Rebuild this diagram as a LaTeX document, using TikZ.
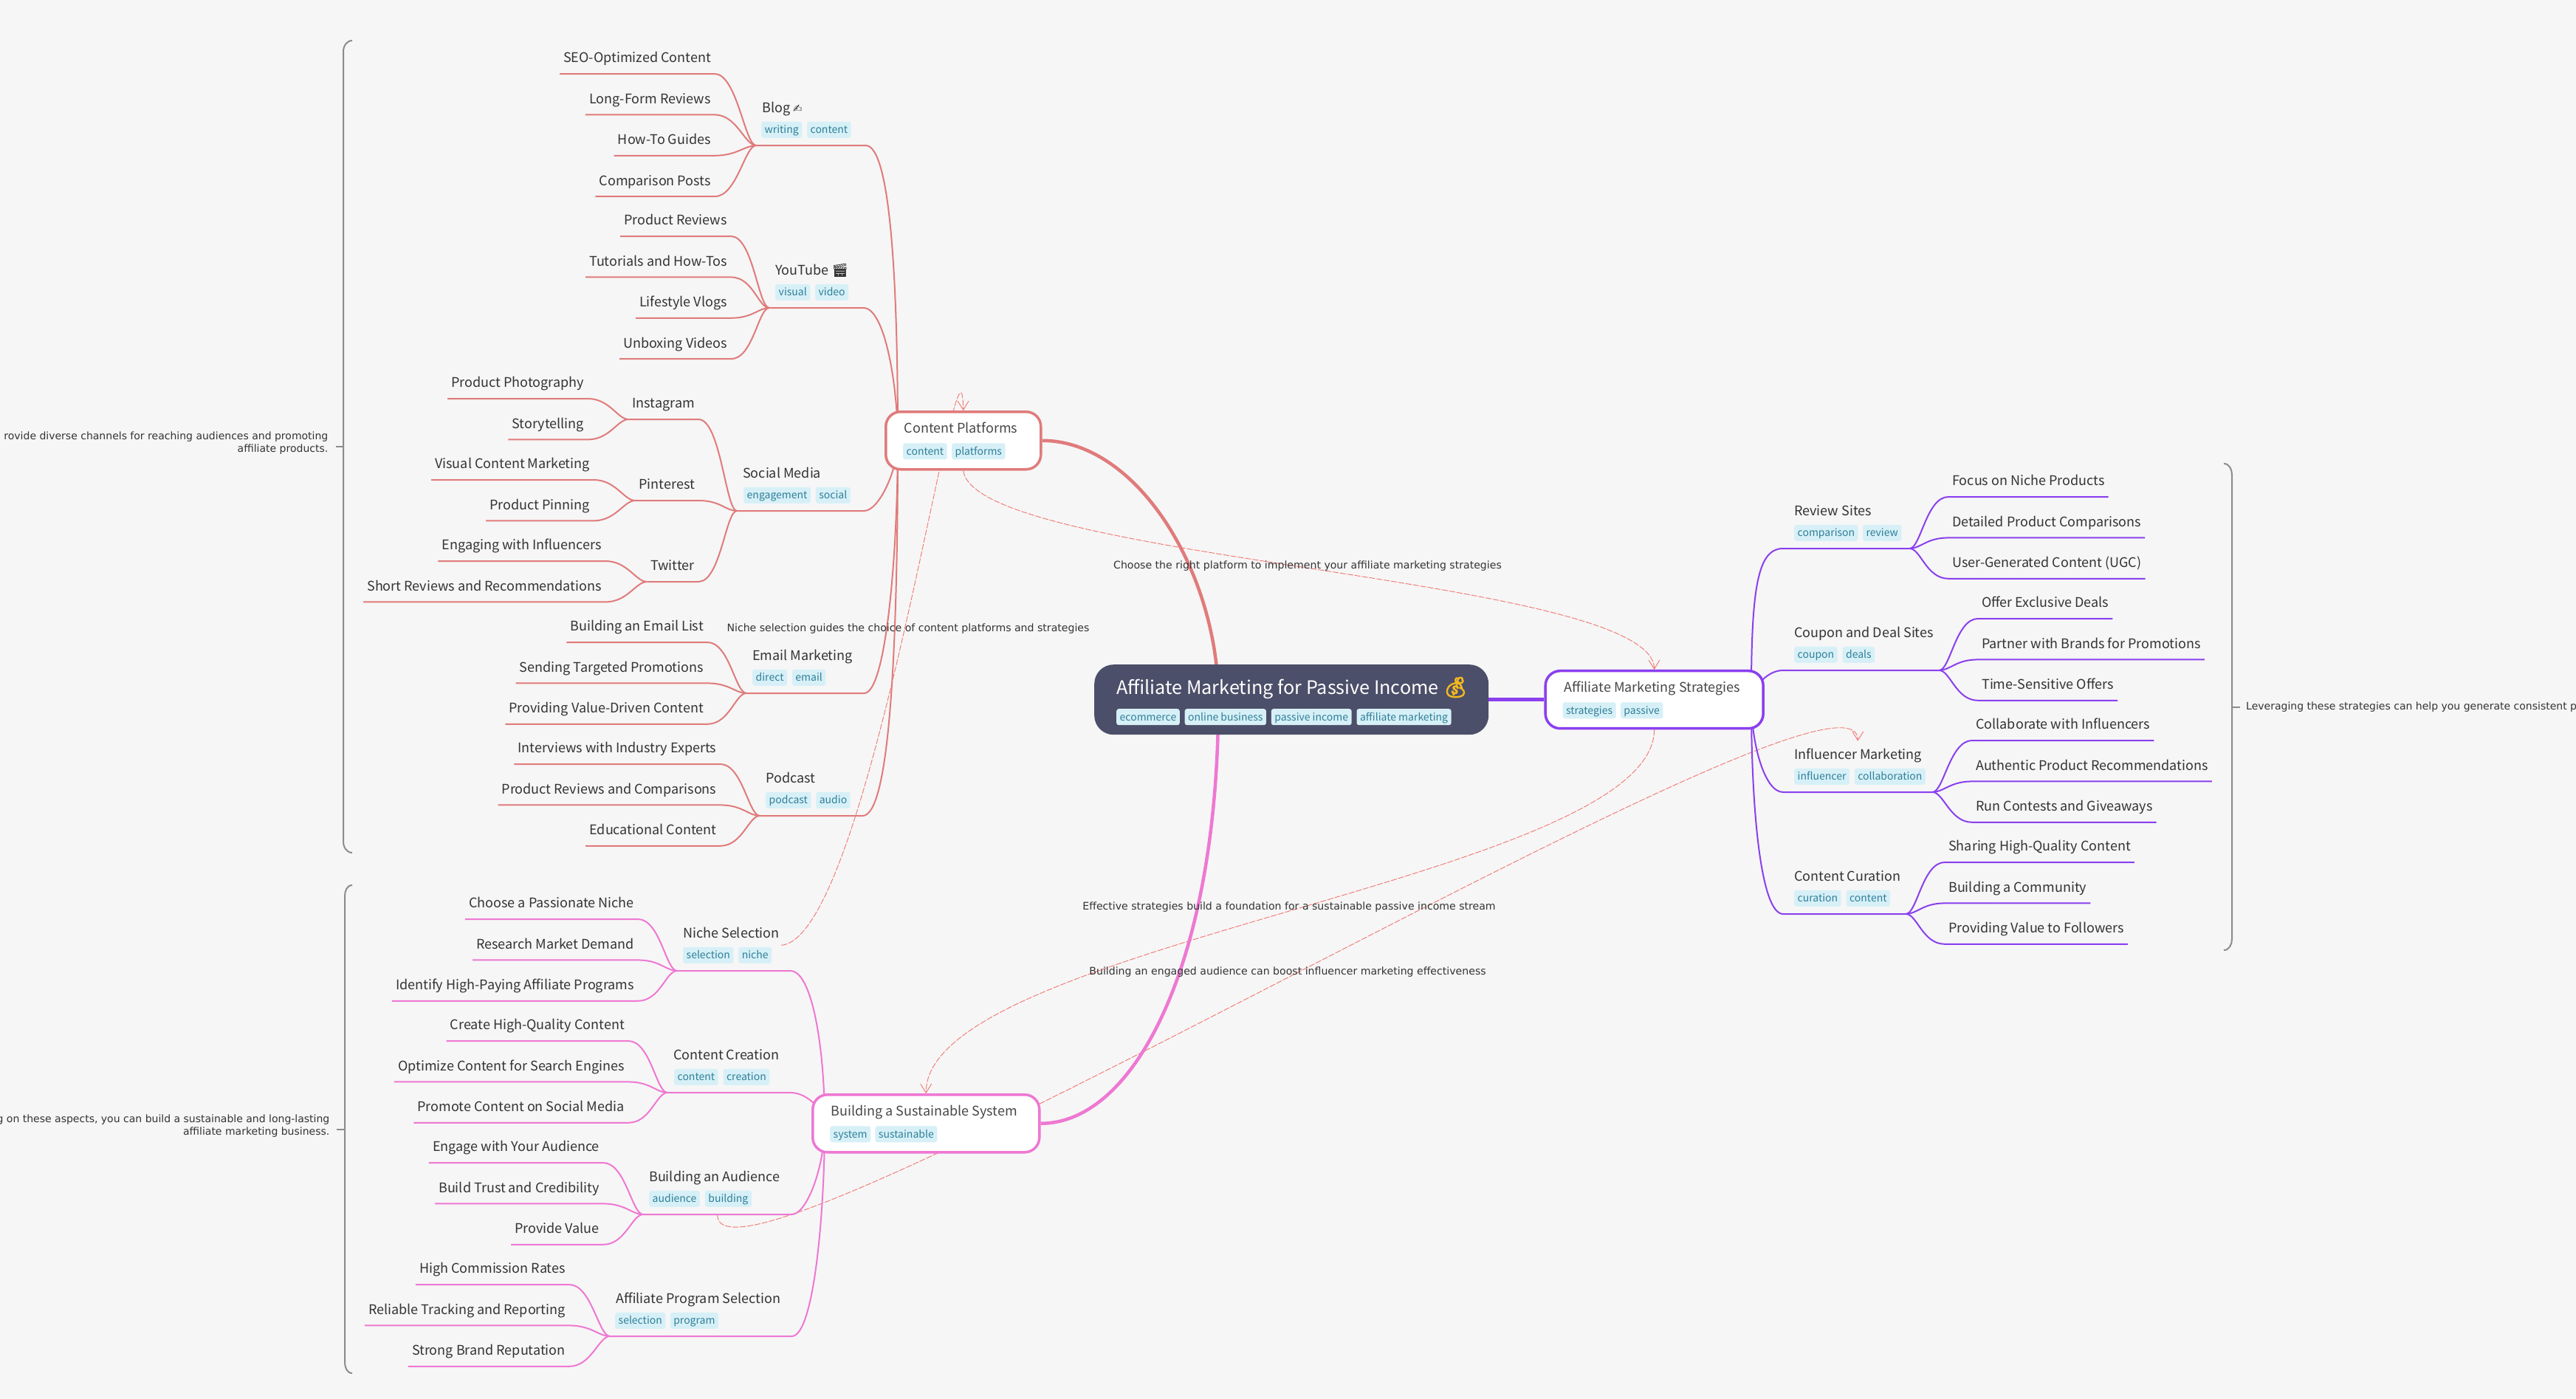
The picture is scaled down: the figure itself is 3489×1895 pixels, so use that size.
\documentclass[tikz,border=0pt]{standalone}
\usepackage{fontspec}
\setmainfont{Noto Sans CJK SC}
\newfontfamily\dejavu{DejaVu Sans}
\newfontfamily\emoji{Noto Emoji}
\newfontfamily\fatemoji[FakeBold=5]{Noto Emoji}
\usetikzlibrary{arrows.meta, positioning, calc}
\pgfdeclarelayer{background}
\pgfsetlayers{background,main}

\definecolor{pagebg}{HTML}{F6F6F6}
\definecolor{rootbg}{HTML}{4C4F69}
\definecolor{redline}{HTML}{E07B7B}
\definecolor{violet}{HTML}{8A3FEE}
\definecolor{pinkline}{HTML}{EE78D2}
\definecolor{relink}{HTML}{F0756F}
\definecolor{tagbg}{HTML}{D7F0F7}
\definecolor{tagink}{HTML}{2F7F98}
\definecolor{ink}{HTML}{333333}
\definecolor{moneybag}{HTML}{F5B91E}
\definecolor{bracketgray}{HTML}{8C8C8C}

\tikzstyle{leaf} = [inner xsep=5pt, inner ysep=0pt, text height=16pt, text depth=15pt, text=ink, font=\fontsize{18}{22}\selectfont]
\tikzstyle{leftleaf} = [leaf, anchor=south east]
\tikzstyle{rightleaf} = [leaf, anchor=south west]
\tikzstyle{branch} = [anchor=south west, inner sep=0pt, text height=25pt, text depth=44pt, align=flush left, text=ink, font=\fontsize{18}{22}\selectfont, execute at begin node={\hskip 8pt}]
\tikzstyle{rightbranch} = [anchor=south west, inner sep=0pt, text height=25pt, text depth=44pt, align=flush left, text=ink, font=\fontsize{18}{22}\selectfont, execute at begin node={\hskip 15pt}]
\tikzstyle{tagbox} = [fill=tagbg, text=tagink, rounded corners=3pt, inner xsep=4.5pt, inner ysep=0pt, minimum height=22pt, text height=13pt, text depth=3pt, font=\fontsize{14}{16}\selectfont]
\tikzstyle{mainbox} = [draw, fill=white, line width=3.5pt, rounded corners=20pt, inner sep=0pt, text height=29pt, text depth=49pt, align=flush left, text=ink!90, font=\fontsize{18}{22}\selectfont, execute at begin node={\hskip 25pt}]
\tikzstyle{rootbox} = [fill=rootbg, rounded corners=26pt, inner sep=0pt, text height=40pt, text depth=55pt, align=flush left, text=white, font=\fontsize{25.2}{30}\selectfont, execute at begin node={\hskip 30pt}]
\tikzstyle{linklabel} = [inner sep=0pt, text=ink, font=\dejavu\fontsize{14.1}{16}\selectfont]
\tikzstyle{note} = [inner ysep=0pt, text=ink, font=\dejavu\fontsize{14}{17}\selectfont]
\tikzstyle{wire} = [line width=2pt]
\tikzstyle{intoleft} = [out=0, in=180, out distance=30pt, in distance=15pt]
\tikzstyle{fromright} = [out=0, in=180, out distance=15pt, in distance=30pt]
\tikzstyle{relation} = [draw=relink, line width=.9pt, dash pattern=on 8pt off 2pt, -{Straight Barb[length=12pt,width=15pt]}]
\tikzstyle{bracket} = [draw=bracketgray, line width=2pt]
\tikzset{
    stackleft/.style={below=24pt of #1.south east, anchor=north east},
    stackright/.style={below=24pt of #1.south west, anchor=north west},
}

\begin{document}
\begin{tikzpicture}[x=1pt, y=-1pt]
    \useasboundingbox (0,0) rectangle (3489,1895);

    % Root and main boxes
    \node[rootbox, anchor=north west, text width=534pt] (root) at (1482,900) {Affiliate Marketing for Passive Income {\fatemoji\fontsize{27}{30}\selectfont\textcolor{moneybag}{💰}}};
    \node[tagbox, above right=13pt and 30pt of root.south west] (rootecommerce) {ecommerce};
    \node[tagbox, right=6.5pt of rootecommerce] (rootonline) {online business};
    \node[tagbox, right=6.5pt of rootonline] (rootpassive) {passive income};
    \node[tagbox, right=6.5pt of rootpassive] (rootaffiliate) {affiliate marketing};

    \node[mainbox, draw=redline, anchor=north west, text width=210pt] (platforms) at (1198,556) {Content Platforms};
    \node[tagbox, above right=15pt and 25pt of platforms.south west] (platformscontent) {content};
    \node[tagbox, right=6pt of platformscontent] (platformsplatforms) {platforms};

    \node[mainbox, draw=violet, right=75pt of root, text width=295pt] (strategies) {Affiliate Marketing Strategies};
    \node[tagbox, above right=15pt and 25pt of strategies.south west] (strategiesstrategies) {strategies};
    \node[tagbox, right=6pt of strategiesstrategies] (strategiespassive) {passive};

    \node[mainbox, draw=pinkline, anchor=north west, text width=307pt] (sustainable) at (1099,1481) {Building a Sustainable System};
    \node[tagbox, above right=15pt and 25pt of sustainable.south west] (sustainablesystem) {system};
    \node[tagbox, right=6pt of sustainablesystem] (sustainablesustainable) {sustainable};

    \coordinate (roothub) at ($(root.center)+(-99,0)$);
    \coordinate (platformhub) at ($(platforms.west)+(18,0)$);
    \coordinate (stratehub) at ($(strategies.east)+(-18,0)$);
    \coordinate (sustainhub) at ($(sustainable.west)+(18,0)$);

    % Blog
    \node[branch, text width=148pt] (blog) at (1024,197) {Blog {\dejavu\fontsize{15}{16}\selectfont ✍}};
    \node[tagbox, above right=10pt and 7pt of blog.south west] (blogwriting) {writing};
    \node[tagbox, right=6.5pt of blogwriting] (blogcontent) {content};
    \node[leftleaf] (seo) at (968,100) {SEO-Optimized Content};
    \node[leftleaf, stackleft=seo] (longform) {Long-Form Reviews};
    \node[leftleaf, stackleft=longform] (howto) {How-To Guides};
    \node[leftleaf, stackleft=howto] (comparisonposts) {Comparison Posts};

    % YouTube
    \node[branch, text width=127pt] (youtube) at (1042,417) {YouTube {\emoji 🎬}};
    \node[tagbox, above right=10pt and 8pt of youtube.south west] (youtubevisual) {visual};
    \node[tagbox, right=6.5pt of youtubevisual] (youtubevideo) {video};
    \node[leftleaf] (productreviews) at (990,320) {Product Reviews};
    \node[leftleaf, stackleft=productreviews] (tutorials) {Tutorials and How-Tos};
    \node[leftleaf, stackleft=tutorials] (vlogs) {Lifestyle Vlogs};
    \node[leftleaf, stackleft=vlogs] (unboxing) {Unboxing Videos};

    % Social Media
    \node[branch, text width=172pt] (social) at (998,692) {Social Media};
    \node[tagbox, above right=10pt and 9pt of social.south west] (socialengagement) {engagement};
    \node[tagbox, right=6.5pt of socialengagement] (socialsocial) {social};
    \node[leftleaf] (instagram) at (946,568) {Instagram};
    \node[leftleaf] (photography) at (796,540) {Product Photography};
    \node[leftleaf, stackleft=photography] (storytelling) {Storytelling};
    \node[leftleaf] (pinterest) at (946,678) {Pinterest};
    \node[leftleaf] (visualcontent) at (804,650) {Visual Content Marketing};
    \node[leftleaf, stackleft=visualcontent] (pinning) {Product Pinning};
    \node[leftleaf] (twitter) at (946,788) {Twitter};
    \node[leftleaf] (influencers) at (820,760) {Engaging with Influencers};
    \node[leftleaf, stackleft=influencers] (shortreviews) {Short Reviews and Recommendations};

    % Email Marketing
    \node[branch, text width=159pt] (email) at (1011,939) {Email Marketing};
    \node[tagbox, above right=10pt and 8pt of email.south west] (emaildirect) {direct};
    \node[tagbox, right=6.5pt of emaildirect] (emailemail) {email};
    \node[leftleaf] (emaillist) at (958,870) {Building an Email List};
    \node[leftleaf, stackleft=emaillist] (targeted) {Sending Targeted Promotions};
    \node[leftleaf, stackleft=targeted] (valuedriven) {Providing Value-Driven Content};

    % Podcast
    \node[branch, text width=139pt] (podcast) at (1029,1105) {Podcast};
    \node[tagbox, above right=10pt and 8pt of podcast.south west] (podcastpodcast) {podcast};
    \node[tagbox, right=6.5pt of podcastpodcast] (podcastaudio) {audio};
    \node[leftleaf] (interviews) at (975.5,1035) {Interviews with Industry Experts};
    \node[leftleaf, stackleft=interviews] (reviewscomparisons) {Product Reviews and Comparisons};
    \node[leftleaf, stackleft=reviewscomparisons] (educational) {Educational Content};

    % Review Sites
    \node[rightbranch, text width=171pt] (review) at (2415,743) {Review Sites};
    \node[tagbox, above right=10pt and 15pt of review.south west] (reviewcomparison) {comparison};
    \node[tagbox, right=6pt of reviewcomparison] (reviewreview) {review};
    \node[rightleaf] (nicheproducts) at (2639,673) {Focus on Niche Products};
    \node[rightleaf, stackright=nicheproducts] (detailed) {Detailed Product Comparisons};
    \node[rightleaf, stackright=detailed] (ugc) {User-Generated Content (UGC)};

    % Coupon and Deal Sites
    \node[rightbranch, text width=211pt] (coupon) at (2415,908) {Coupon and Deal Sites};
    \node[tagbox, above right=10pt and 15pt of coupon.south west] (couponcoupon) {coupon};
    \node[tagbox, right=6.5pt of couponcoupon] (coupondeals) {deals};
    \node[rightleaf] (exclusive) at (2679,838) {Offer Exclusive Deals};
    \node[rightleaf, stackright=exclusive] (brands) {Partner with Brands for Promotions};
    \node[rightleaf, stackright=brands] (timesensitive) {Time-Sensitive Offers};

    % Influencer Marketing
    \node[rightbranch, text width=202pt] (influencer) at (2415,1073) {Influencer Marketing};
    \node[tagbox, above right=10pt and 15pt of influencer.south west] (influencerinfluencer) {influencer};
    \node[tagbox, right=6.5pt of influencerinfluencer] (influencercollaboration) {collaboration};
    \node[rightleaf] (collaborate) at (2671,1003) {Collaborate with Influencers};
    \node[rightleaf, stackright=collaborate] (authentic) {Authentic Product Recommendations};
    \node[rightleaf, stackright=authentic] (contests) {Run Contests and Giveaways};

    % Content Curation
    \node[rightbranch, text width=166pt] (curation) at (2415,1238) {Content Curation};
    \node[tagbox, above right=10pt and 15pt of curation.south west] (curationcuration) {curation};
    \node[tagbox, right=6.5pt of curationcuration] (curationcontent) {content};
    \node[rightleaf] (sharing) at (2634,1168) {Sharing High-Quality Content};
    \node[rightleaf, stackright=sharing] (community) {Building a Community};
    \node[rightleaf, stackright=community] (followers) {Providing Value to Followers};

    % Niche Selection
    \node[branch, text width=153pt] (niche) at (917,1315) {Niche Selection};
    \node[tagbox, above right=10pt and 8pt of niche.south west] (nicheselection) {selection};
    \node[tagbox, right=6.5pt of nicheselection] (nicheniche) {niche};
    \node[leftleaf] (passionate) at (864,1245) {Choose a Passionate Niche};
    \node[leftleaf, stackleft=passionate] (demand) {Research Market Demand};
    \node[leftleaf, stackleft=demand] (programs) {Identify High-Paying Affiliate Programs};

    % Content Creation
    \node[branch, text width=166pt] (creation) at (904,1480) {Content Creation};
    \node[tagbox, above right=10pt and 9pt of creation.south west] (creationcontent) {content};
    \node[tagbox, right=6.5pt of creationcontent] (creationcreation) {creation};
    \node[leftleaf] (highquality) at (851,1410) {Create High-Quality Content};
    \node[leftleaf, stackleft=highquality] (engines) {Optimize Content for Search Engines};
    \node[leftleaf, stackleft=engines] (promote) {Promote Content on Social Media};

    % Building an Audience
    \node[branch, text width=201pt] (audience) at (871,1645) {Building an Audience};
    \node[tagbox, above right=10pt and 8pt of audience.south west] (audienceaudience) {audience};
    \node[tagbox, right=6.5pt of audienceaudience] (audiencebuilding) {building};
    \node[leftleaf] (engage) at (817,1575) {Engage with Your Audience};
    \node[leftleaf, stackleft=engage] (trust) {Build Trust and Credibility};
    \node[leftleaf, stackleft=trust] (providevalue) {Provide Value};

    % Affiliate Program Selection
    \node[branch, text width=246pt] (program) at (826,1810) {Affiliate Program Selection};
    \node[tagbox, above right=10pt and 7pt of program.south west] (programselection) {selection};
    \node[tagbox, right=6pt of programselection] (programprogram) {program};
    \node[leftleaf] (commission) at (771,1740) {High Commission Rates};
    \node[leftleaf, stackleft=commission] (tracking) {Reliable Tracking and Reporting};
    \node[leftleaf, stackleft=tracking] (reputation) {Strong Brand Reputation};

    % Notes
    \coordinate (topmid) at (465,605);
    \coordinate (rightmid) at (3023,958);
    \coordinate (bottommid) at (467,1530);
    \node[note, anchor=east, align=right, inner xsep=10.5pt] (topnote) at (455,600) {rovide diverse channels for reaching audiences and promoting\\affiliate products.};
    \node[note, anchor=west, inner xsep=8pt] (rightnote) at (3034,958) {Leveraging these strategies can help you generate consistent p};
    \node[note, anchor=east, align=right, inner xsep=9.5pt] (bottomnote) at (456,1525) {g on these aspects, you can build a sustainable and long-lasting\\affiliate marketing business.};

    % Link labels
    \node[linklabel] (platformlabel) at (1771,767) {Choose the right platform to implement your affiliate marketing strategies};
    \node[linklabel] (nichelabel) at (1230,852) {Niche selection guides the choice of content platforms and strategies};
    \node[linklabel] (effectivelabel) at (1746,1229) {Effective strategies build a foundation for a sustainable passive income stream};
    \node[linklabel] (audiencelabel) at (1744,1317) {Building an engaged audience can boost influencer marketing effectiveness};

    \coordinate (nichetail) at ($(niche.east)+(-12,0)$);

    \begin{pgfonlayer}{background}
    \fill[pagebg] (0,0) rectangle (3489,1895);

    % Brackets
    \draw[bracket] (477,55) to[out=180,in=90] (465,70) -- (465,1140) to[out=-90,in=180] (477,1155);
    \draw[bracket] (topnote.east |- topmid) -- (topmid);
    \draw[bracket] (3012,628) to[out=0,in=90] (3023,643) -- (3023,1272) to[out=-90,in=0] (3012,1287);
    \draw[bracket] (rightnote.west |- rightmid) -- (rightmid);
    \draw[bracket] (477,1199) to[out=180,in=90] (467,1214) -- (467,1845) to[out=-90,in=180] (477,1860);
    \draw[bracket] (bottomnote.east |- bottommid) -- (bottommid);

    % Relations
    \draw[relation] (platforms.south) .. controls (1320,760) and (2239,780) .. (strategies.north);
    \draw[relation] (nichetail) .. controls (1180,1270) and (1302,380) .. (platforms.north);
    \draw[relation] (strategies.south) .. controls (2239,1190) and (1253,1278) .. (sustainable.north);
    \draw[relation] (audience.south) .. controls (968,1800) and (2518,850) .. (influencer.north);

    % Main links
    \draw[redline, line width=4.5pt] (platforms.east) to[out=0,in=90,out distance=130pt,in distance=170pt] (roothub);
    \draw[pinkline, line width=4.5pt] (sustainable.east) to[out=0,in=-90,out distance=130pt,in distance=350pt] (roothub);
    \draw[violet, line width=4.5pt] (root.east) -- (strategies.west);

    % Content Platforms wires
    \draw[redline, wire] (blog.south west) -- (blog.south east) to[out=0,in=90,out distance=35pt,in distance=200pt] (platformhub);
    \draw[redline, wire] (seo.south west) -- (seo.south east) to[intoleft] (blog.south west);
    \draw[redline, wire] (longform.south west) -- (longform.south east) to[intoleft] (blog.south west);
    \draw[redline, wire] (howto.south west) -- (howto.south east) to[intoleft] (blog.south west);
    \draw[redline, wire] (comparisonposts.south west) -- (comparisonposts.south east) to[intoleft] (blog.south west);

    \draw[redline, wire] (youtube.south west) -- (youtube.south east) to[out=0,in=90,out distance=30pt,in distance=70pt] (platformhub);
    \draw[redline, wire] (productreviews.south west) -- (productreviews.south east) to[intoleft] (youtube.south west);
    \draw[redline, wire] (tutorials.south west) -- (tutorials.south east) to[intoleft] (youtube.south west);
    \draw[redline, wire] (vlogs.south west) -- (vlogs.south east) to[intoleft] (youtube.south west);
    \draw[redline, wire] (unboxing.south west) -- (unboxing.south east) to[intoleft] (youtube.south west);

    \draw[redline, wire] (social.south west) -- (social.south east) to[out=0,in=-90,out distance=20pt,in distance=40pt] (platformhub);
    \draw[redline, wire] (instagram.south west) -- (instagram.south east) to[intoleft] (social.south west);
    \draw[redline, wire] (pinterest.south west) -- (pinterest.south east) to[intoleft] (social.south west);
    \draw[redline, wire] (twitter.south west) -- (twitter.south east) to[intoleft] (social.south west);
    \draw[redline, wire] (photography.south west) -- (photography.south east) to[intoleft] (instagram.south west);
    \draw[redline, wire] (storytelling.south west) -- (storytelling.south east) to[intoleft] (instagram.south west);
    \draw[redline, wire] (visualcontent.south west) -- (visualcontent.south east) to[intoleft] (pinterest.south west);
    \draw[redline, wire] (pinning.south west) -- (pinning.south east) to[intoleft] (pinterest.south west);
    \draw[redline, wire] (influencers.south west) -- (influencers.south east) to[intoleft] (twitter.south west);
    \draw[redline, wire] (shortreviews.south west) -- (shortreviews.south east) to[intoleft] (twitter.south west);

    \draw[redline, wire] (email.south west) -- (email.south east) to[out=0,in=-90,out distance=30pt,in distance=150pt] (platformhub);
    \draw[redline, wire] (emaillist.south west) -- (emaillist.south east) to[intoleft] (email.south west);
    \draw[redline, wire] (targeted.south west) -- (targeted.south east) to[intoleft] (email.south west);
    \draw[redline, wire] (valuedriven.south west) -- (valuedriven.south east) to[intoleft] (email.south west);

    \draw[redline, wire] (podcast.south west) -- (podcast.south east) to[out=0,in=-90,out distance=35pt,in distance=300pt] (platformhub);
    \draw[redline, wire] (interviews.south west) -- (interviews.south east) to[intoleft] (podcast.south west);
    \draw[redline, wire] (reviewscomparisons.south west) -- (reviewscomparisons.south east) to[intoleft] (podcast.south west);
    \draw[redline, wire] (educational.south west) -- (educational.south east) to[intoleft] (podcast.south west);

    % Strategies wires
    \draw[violet, wire] (review.south east) -- (review.south west) to[out=180,in=90,out distance=35pt,in distance=150pt] (stratehub);
    \draw[violet, wire] (review.south east) to[fromright] (nicheproducts.south west) -- (nicheproducts.south east);
    \draw[violet, wire] (review.south east) to[fromright] (detailed.south west) -- (detailed.south east);
    \draw[violet, wire] (review.south east) to[fromright] (ugc.south west) -- (ugc.south east);

    \draw[violet, wire] (coupon.south east) -- (coupon.south west) to[out=180,in=90,out distance=25pt,in distance=10pt] (stratehub);
    \draw[violet, wire] (coupon.south east) to[fromright] (exclusive.south west) -- (exclusive.south east);
    \draw[violet, wire] (coupon.south east) to[fromright] (brands.south west) -- (brands.south east);
    \draw[violet, wire] (coupon.south east) to[fromright] (timesensitive.south west) -- (timesensitive.south east);

    \draw[violet, wire] (influencer.south east) -- (influencer.south west) to[out=180,in=-90,out distance=25pt,in distance=60pt] (stratehub);
    \draw[violet, wire] (influencer.south east) to[fromright] (collaborate.south west) -- (collaborate.south east);
    \draw[violet, wire] (influencer.south east) to[fromright] (authentic.south west) -- (authentic.south east);
    \draw[violet, wire] (influencer.south east) to[fromright] (contests.south west) -- (contests.south east);

    \draw[violet, wire] (curation.south east) -- (curation.south west) to[out=180,in=-90,out distance=30pt,in distance=150pt] (stratehub);
    \draw[violet, wire] (curation.south east) to[fromright] (sharing.south west) -- (sharing.south east);
    \draw[violet, wire] (curation.south east) to[fromright] (community.south west) -- (community.south east);
    \draw[violet, wire] (curation.south east) to[fromright] (followers.south west) -- (followers.south east);

    % Sustainable System wires
    \draw[pinkline, wire] (niche.south west) -- (niche.south east) to[out=0,in=90,out distance=30pt,in distance=100pt] (sustainhub);
    \draw[pinkline, wire] (passionate.south west) -- (passionate.south east) to[intoleft] (niche.south west);
    \draw[pinkline, wire] (demand.south west) -- (demand.south east) to[intoleft] (niche.south west);
    \draw[pinkline, wire] (programs.south west) -- (programs.south east) to[intoleft] (niche.south west);

    \draw[pinkline, wire] (creation.south west) -- (creation.south east) to[out=0,in=90,out distance=25pt,in distance=15pt] (sustainhub);
    \draw[pinkline, wire] (highquality.south west) -- (highquality.south east) to[intoleft] (creation.south west);
    \draw[pinkline, wire] (engines.south west) -- (engines.south east) to[intoleft] (creation.south west);
    \draw[pinkline, wire] (promote.south west) -- (promote.south east) to[intoleft] (creation.south west);

    \draw[pinkline, wire] (audience.south west) -- (audience.south east) to[out=0,in=-90,out distance=20pt,in distance=60pt] (sustainhub);
    \draw[pinkline, wire] (engage.south west) -- (engage.south east) to[intoleft] (audience.south west);
    \draw[pinkline, wire] (trust.south west) -- (trust.south east) to[intoleft] (audience.south west);
    \draw[pinkline, wire] (providevalue.south west) -- (providevalue.south east) to[intoleft] (audience.south west);

    \draw[pinkline, wire] (program.south west) -- (program.south east) to[out=0,in=-90,out distance=30pt,in distance=120pt] (sustainhub);
    \draw[pinkline, wire] (commission.south west) -- (commission.south east) to[intoleft] (program.south west);
    \draw[pinkline, wire] (tracking.south west) -- (tracking.south east) to[intoleft] (program.south west);
    \draw[pinkline, wire] (reputation.south west) -- (reputation.south east) to[intoleft] (program.south west);
    \end{pgfonlayer}

\end{tikzpicture}
\end{document}
